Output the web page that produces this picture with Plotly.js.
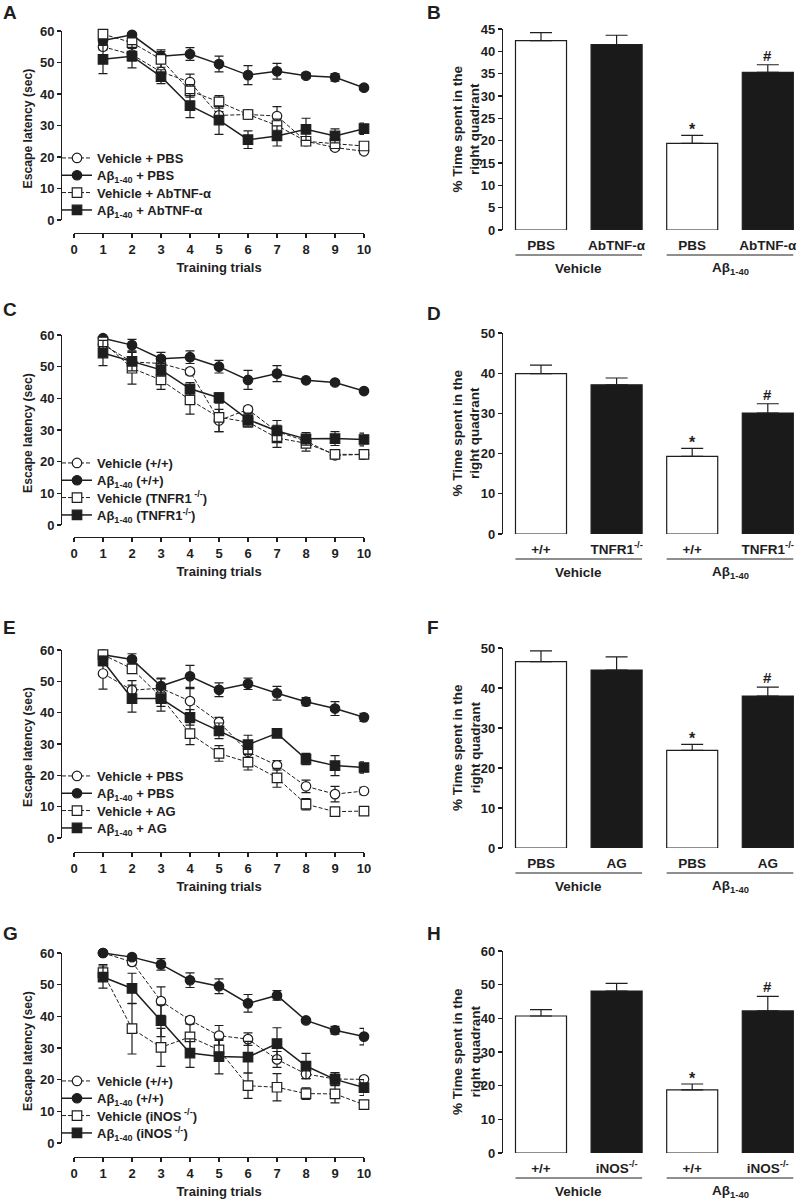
<!DOCTYPE html>
<html>
<head>
<meta charset="utf-8">
<script src="https://cdn.plot.ly/plotly-3.0.1.min.js"></script>
<style>html,body{margin:0;padding:0;background:#fff}#chart{width:799px;height:1199px}</style>
</head>
<body>
<div id="chart"></div>
<script>
// ---------------- DATA ----------------
const trials = [1, 2, 3, 4, 5, 6, 7, 8, 9, 10];

// Panel A
const namesA = ['Vehicle + PBS', 'Aβ<sub>1-40</sub> + PBS', 'Vehicle + AbTNF-α', 'Aβ<sub>1-40</sub> + AbTNF-α'];
const A_vehPBS = [55, 52.5, 47, 43.8, 33.2, 33.5, 33, 25, 23, 21.8];
const A_vehPBS_err = [1, 2, 3, 2.5, 1.2, 1, 3, 0.6, 0.8, 0.8];
const A_abPBS = [57, 58.8, 52, 52.7, 49.5, 46, 47.2, 45.8, 45.3, 42];
const A_abPBS_err = [1.5, 0.5, 2, 2, 2.5, 3, 2.5, 0.8, 1.2, 0.8];
const A_vehTNF = [59, 56.3, 51, 41, 37.5, 33.5, 30, 25, 24.2, 23.5];
const A_vehTNF_err = [0.5, 1.5, 2.5, 2, 2, 1.5, 2, 1, 1, 1];
const A_abTNF = [51, 52, 45.5, 36.3, 31.7, 25.5, 26.7, 28.8, 26.7, 29];
const A_abTNF_err = [4.5, 3.7, 2.2, 3.8, 4.5, 2.8, 3.2, 3.5, 2.2, 1.8];

// Panel C
const namesC = ['Vehicle (+/+)', 'Aβ<sub>1-40</sub> (+/+)', 'Vehicle (TNFR1<sup> -/-</sup>)', 'Aβ<sub>1-40</sub> (TNFR1<sup>-/-</sup>)'];
const C_veh = [57, 51.5, 51, 48.5, 33, 36.5, 29.5, 26.5, 22, 22.3];
const C_veh_err = [1, 1, 2, 1, 3.5, 1, 2, 1.5, 1, 1];
const C_ab = [59, 56.8, 52.5, 53, 50, 45.8, 47.8, 45.7, 45, 42.3];
const C_ab_err = [0.5, 1.8, 2, 2, 2, 3, 2.5, 0.5, 0.5, 0.5];
const C_vehKO = [57.8, 49.5, 45.8, 39.5, 34, 32.5, 27.5, 25.8, 22.3, 22.3];
const C_vehKO_err = [1.5, 5, 3, 4.5, 4.5, 1.5, 3, 2.5, 1, 1.5];
const C_abKO = [54.3, 51.7, 49, 43, 40.2, 33.3, 29.7, 27.2, 27.3, 27];
const C_abKO_err = [4, 3, 2, 2, 1.5, 2, 3.3, 2, 2.2, 2];

// Panel E
const namesE = ['Vehicle + PBS', 'Aβ<sub>1-40</sub> + PBS', 'Vehicle + AG', 'Aβ<sub>1-40</sub> + AG'];
const E_vehPBS = [52.5, 47.2, 47.8, 43.7, 37, 27.5, 23.2, 16.5, 14, 15];
const E_vehPBS_err = [5, 3, 3, 4, 1.5, 2, 1.5, 2, 2.5, 1.2];
const E_abPBS = [58.5, 57, 48.5, 51.6, 47.3, 49.2, 46.2, 43.5, 41.3, 38.5];
const E_abPBS_err = [0.5, 1.8, 2.5, 3.5, 2.2, 1.8, 2.2, 1.3, 2.2, 1.3];
const E_vehAG = [58.5, 54, 45, 33.3, 27, 24.2, 19.2, 10.8, 8.4, 8.6];
const E_vehAG_err = [0.5, 1.5, 3, 3.5, 2.5, 2.5, 3, 1.8, 0.8, 0.5];
const E_abAG = [56.5, 44.5, 44.5, 38.5, 34.2, 29.8, 33.4, 25.2, 23.1, 22.5];
const E_abAG_err = [1.5, 4.3, 4, 2.5, 2.5, 3, 1, 1.8, 3.2, 1.8];

// Panel G
const namesG = ['Vehicle (+/+)', 'Aβ<sub>1-40</sub> (+/+)', 'Vehicle (iNOS<sup> -/-</sup>)', 'Aβ<sub>1-40</sub> (iNOS<sup> -/-</sup>)'];
const G_veh = [60, 57.2, 44.8, 38.8, 33.9, 32.8, 26.4, 21.8, 20.2, 20.1];
const G_veh_err = [0.3, 1, 4.5, 1, 3.2, 2, 2.5, 1.5, 2, 0.8];
const G_ab = [60, 58.7, 56.4, 51.4, 49.5, 44.1, 46.6, 38.7, 35.6, 33.6];
const G_ab_err = [0.3, 0.5, 1.8, 2.3, 2.3, 2.8, 1.5, 0.5, 1.2, 2.6];
const G_vehKO = [53.8, 36.1, 30.2, 33.5, 29.4, 18.1, 17.6, 15.6, 15.5, 12.1];
const G_vehKO_err = [2.5, 8, 6, 4, 3, 4, 4.3, 1.8, 2.8, 1.2];
const G_abKO = [52.4, 48.8, 38.6, 28.4, 27.3, 27.1, 31.4, 24.3, 20.1, 17.5];
const G_abKO_err = [3.5, 4.8, 5, 4.5, 5.5, 5, 5, 4, 2, 2.5];

// Bar panels
const groups = ['Vehicle', 'Aβ<sub>1-40</sub>'];
const catsB = ['PBS', 'AbTNF-α', 'PBS', 'AbTNF-α'];
const valsB = [42.4, 41.5, 19.4, 35.3];
const errsB = [1.8, 2.1, 1.8, 1.7];
const catsD = ['+/+', 'TNFR1<sup>-/-</sup>', '+/+', 'TNFR1<sup>-/-</sup>'];
const valsD = [39.9, 37.1, 19.3, 30.1];
const errsD = [2.1, 1.7, 2.0, 2.3];
const catsF = ['PBS', 'AG', 'PBS', 'AG'];
const valsF = [46.6, 44.5, 24.4, 38.0];
const errsF = [2.7, 3.3, 1.5, 2.2];
const catsH = ['+/+', 'iNOS<sup>-/-</sup>', '+/+', 'iNOS<sup>-/-</sup>'];
const valsH = [40.7, 48.1, 18.75, 42.2];
const errsH = [1.9, 2.3, 1.75, 4.3];
const barPos = [0, 1, 2, 3];
const starText = '*';
const hashText = '#';
const lineYTitle = 'Escape latency (sec)';
const lineXTitle = 'Training trials';
const barYTitle = '% Time spent in the<br>right quadrant';

// ---------------- STYLE / GEOMETRY ----------------
const W = 799, H = 1199;
const px = p => p / W;
const py = p => 1 - p / H;
const INK = '#1e1e1e';
const FONT = 'Liberation Sans, Arial, sans-serif';
const fnt = (s) => ({family: FONT, size: s, color: INK, weight: 'bold'});
const barFill = ['#ffffff', '#1a1a1a', '#ffffff', '#1a1a1a'];
const BARW = 0.675;
const legendOffsets = [62, 44.7, 27.4, 10];   // px above plot bottom for each legend row

const seriesStyle = [
  {dash: 'dash', width: 1, symbol: 'circle', fill: '#ffffff'},
  {dash: 'solid', width: 1.5, symbol: 'circle', fill: INK},
  {dash: 'dash', width: 1, symbol: 'square', fill: '#ffffff'},
  {dash: 'solid', width: 1.5, symbol: 'square', fill: INK}
];

const linePanels = [
  {letter: 'A', top: 31, bot: 220, axisY: 233, names: namesA,
   ys: [A_vehPBS, A_abPBS, A_vehTNF, A_abTNF], es: [A_vehPBS_err, A_abPBS_err, A_vehTNF_err, A_abTNF_err], letterY: 12},
  {letter: 'C', top: 335, bot: 525, axisY: 537, names: namesC,
   ys: [C_veh, C_ab, C_vehKO, C_abKO], es: [C_veh_err, C_ab_err, C_vehKO_err, C_abKO_err], letterY: 310},
  {letter: 'E', top: 650, bot: 838, axisY: 852, names: namesE,
   ys: [E_vehPBS, E_abPBS, E_vehAG, E_abAG], es: [E_vehPBS_err, E_abPBS_err, E_vehAG_err, E_abAG_err], letterY: 628},
  {letter: 'G', top: 953, bot: 1143, axisY: 1157, names: namesG,
   ys: [G_veh, G_ab, G_vehKO, G_abKO], es: [G_veh_err, G_ab_err, G_vehKO_err, G_abKO_err], letterY: 933}
];
const barPanels = [
  {letter: 'B', top: 29, bot: 230, ymax: 45, dtick: 5, cats: catsB, vals: valsB, errs: errsB, letterY: 12},
  {letter: 'D', top: 333, bot: 534, ymax: 50, dtick: 10, cats: catsD, vals: valsD, errs: errsD, letterY: 313},
  {letter: 'F', top: 648, bot: 848, ymax: 50, dtick: 10, cats: catsF, vals: valsF, errs: errsF, letterY: 628},
  {letter: 'H', top: 951, bot: 1153, ymax: 60, dtick: 10, cats: catsH, vals: valsH, errs: errsH, letterY: 933}
];

const traces = [];
const layout = {
  width: W, height: H, margin: {l: 0, r: 0, t: 0, b: 0},
  paper_bgcolor: '#fff', plot_bgcolor: 'rgba(0,0,0,0)',
  showlegend: true, font: fnt(12), shapes: [], annotations: []
};

// Line panels
const XL = 74, XR = 364, YAX = 61;
let legIdx = 0;
linePanels.forEach((p, i) => {
  const n = 2 * i + 1;
  const xa = 'xaxis' + (n === 1 ? '' : n), ya = 'yaxis' + (n === 1 ? '' : n);
  const xr = 'x' + (n === 1 ? '' : n), yr = 'y' + (n === 1 ? '' : n);
  layout[xa] = {
    domain: [px(XL), px(XR)], range: [0, 10], anchor: 'free', position: py(p.axisY),
    showline: true, linecolor: INK, linewidth: 1.2, ticks: 'outside', ticklen: 4, tickwidth: 1.2, tickcolor: INK,
    tick0: 0, dtick: 1, showgrid: false, zeroline: false, tickfont: fnt(13),
    title: {text: lineXTitle, font: fnt(13), standoff: 7}
  };
  layout[ya] = {
    domain: [py(p.bot), py(p.top)], range: [0, 60], anchor: 'free', position: px(YAX),
    showline: true, linecolor: INK, linewidth: 1.2, ticks: 'outside', ticklen: 4, tickwidth: 1.2, tickcolor: INK,
    tick0: 0, dtick: 10, showgrid: false, zeroline: false, tickfont: fnt(13)
  };
  layout.annotations.push({xref: 'paper', yref: 'paper', x: px(28), y: py((p.top + p.bot) / 2 + 3),
    xanchor: 'center', yanchor: 'middle', textangle: -90, text: lineYTitle, showarrow: false, font: fnt(12.2)});
  for (let k = 0; k < 4; k++) {
    legIdx++;
    const leg = 'legend' + (legIdx === 1 ? '' : legIdx);
    layout[leg] = {
      x: px(57), y: py(p.bot - legendOffsets[k]), xanchor: 'left', yanchor: 'middle',
      bgcolor: 'rgba(0,0,0,0)', font: fnt(13), itemwidth: 30
    };
    const s = seriesStyle[k];
    traces.push({
      type: 'scatter', mode: 'lines+markers', x: trials, y: p.ys[k], name: p.names[k],
      xaxis: xr, yaxis: yr, legend: leg, cliponaxis: false,
      line: {color: INK, width: s.width, dash: s.dash === 'dash' ? '4px,2px' : 'solid'},
      marker: {symbol: s.symbol, size: 9.5, color: s.fill, line: {color: INK, width: 1.2}},
      error_y: {type: 'data', array: p.es[k], visible: true, color: INK, thickness: 1.2, width: 4.5}
    });
  }
  layout.annotations.push({xref: 'paper', yref: 'paper', x: px(1), y: py(p.letterY), xanchor: 'left', yanchor: 'middle',
    text: p.letter, showarrow: false, font: fnt(19)});
});

// Bar panels
const BL = 503, C0 = 541, STEP = 75.6;
barPanels.forEach((p, i) => {
  const n = 2 * i + 2;
  const xa = 'xaxis' + n, ya = 'yaxis' + n, xr = 'x' + n, yr = 'y' + n;
  layout[xa] = {
    domain: [px(BL), 1], range: [(BL - C0) / STEP, (W - C0) / STEP], anchor: yr,
    showline: false, ticks: '', tickvals: barPos, ticktext: p.cats, tickfont: fnt(13.5),
    showgrid: false, zeroline: false, ticklabelstandoff: 5
  };
  layout[ya] = {
    domain: [py(p.bot), py(p.top)], range: [0, p.ymax], anchor: xr,
    showline: true, linecolor: INK, linewidth: 1.2, ticks: 'outside', ticklen: 4, tickwidth: 1.2, tickcolor: INK,
    tick0: 0, dtick: p.dtick, showgrid: false, zeroline: false, tickfont: fnt(13)
  };
  layout.annotations.push({xref: 'paper', yref: 'paper', x: px(466), y: py((p.top + p.bot) / 2),
    xanchor: 'center', yanchor: 'middle', textangle: -90, text: barYTitle, showarrow: false, font: fnt(13.5)});
  traces.push({
    type: 'bar', x: barPos, y: p.vals, width: BARW, xaxis: xr, yaxis: yr, showlegend: false,
    marker: {color: barFill, line: {color: INK, width: 1.2}},
    error_y: {type: 'data', symmetric: false, array: p.errs, arrayminus: p.errs.map(() => 0),
      visible: true, color: INK, thickness: 1.2, width: 11}
  });
  [[0, 1], [2, 3]].forEach((g, gi) => {
    layout.shapes.push({type: 'line', xref: xr, yref: 'paper',
      x0: barPos[g[0]] - BARW / 2, x1: barPos[g[1]] + BARW / 2, y0: py(p.bot + 25), y1: py(p.bot + 25),
      line: {color: INK, width: 1}});
    layout.annotations.push({xref: xr, yref: 'paper', x: (barPos[g[0]] + barPos[g[1]]) / 2, y: py(p.bot + 38),
      xanchor: 'center', yanchor: 'middle', text: groups[gi], showarrow: false, font: fnt(13.5)});
  });
  layout.annotations.push({xref: xr, yref: yr, x: barPos[2], y: p.vals[2] + p.errs[2], yanchor: 'bottom',
    text: starText, showarrow: false, font: fnt(16), yshift: -5});
  layout.annotations.push({xref: xr, yref: yr, x: barPos[3], y: p.vals[3] + p.errs[3], yanchor: 'bottom',
    text: hashText, showarrow: false, font: fnt(15), yshift: -1});
  layout.annotations.push({xref: 'paper', yref: 'paper', x: px(425), y: py(p.letterY), xanchor: 'left', yanchor: 'middle',
    text: p.letter, showarrow: false, font: fnt(19)});
});

Plotly.newPlot('chart', traces, layout, {staticPlot: true, displayModeBar: false});
</script>
</body>
</html>
